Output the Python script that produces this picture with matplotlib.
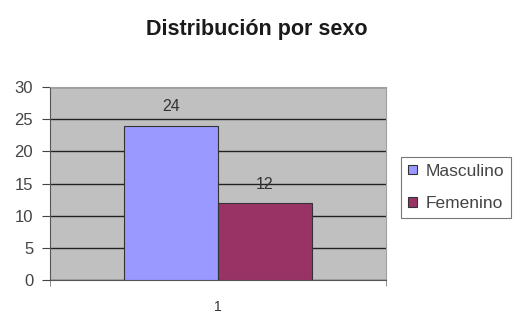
import matplotlib.pyplot as plt
from matplotlib.ticker import FixedLocator

plt.rcParams["font.family"] = ["Liberation Sans", "DejaVu Sans"]

categories = ["1"]
series_names = ["Masculino", "Femenino"]
series_values = [24, 12]
series_colors = ["#9999FF", "#993366"]
yticks = [0, 5, 10, 15, 20, 25, 30]

fig = plt.figure(figsize=(5.14, 3.14), dpi=100)
ax = fig.add_axes([0.097, 0.108, 0.654, 0.615])
ax.set_facecolor("#C0C0C0")

width = 0.28
offsets = [-width / 2, width / 2]
for name, val, col, off in zip(series_names, series_values, series_colors, offsets):
    bars = ax.bar([off], [val], width=width, color=col, edgecolor="#333333",
                  linewidth=0.8, label=name, zorder=3)
    ax.bar_label(bars, labels=[str(val)], padding=8, fontsize=11.5, color="#333333", zorder=4)

ax.set_xlim(-0.5, 0.5)
ax.set_ylim(0, 30)
ax.set_yticks(yticks)
ax.yaxis.grid(True, color="#222222", linewidth=1.0, zorder=1)
ax.set_axisbelow(True)

ax.set_xticks([0])
ax.set_xticklabels(categories)
ax.xaxis.set_minor_locator(FixedLocator([-0.5, 0.5]))
ax.tick_params(axis="x", which="major", length=0, pad=14, labelsize=10, colors="#333333")
ax.tick_params(axis="x", which="minor", length=4, color="#808080")
ax.tick_params(axis="y", length=6, pad=6, labelsize=12, labelcolor="#444444", color="#444444")

for s in ["top", "right"]:
    ax.spines[s].set_color("#A0A0A0")
    ax.spines[s].set_linewidth(0.8)
ax.spines["left"].set_color("#555555")
ax.spines["bottom"].set_color("#555555")

fig.text(0.5, 0.905, "Distribución por sexo", ha="center", va="center",
         fontsize=15.5, fontweight="bold", color="#1a1a1a")

leg = ax.legend(loc="center left", bbox_to_anchor=(1.045, 0.48), frameon=True,
                fancybox=False, fontsize=12.5, handlelength=0.5, handleheight=0.5,
                handletextpad=0.5, borderpad=0.4, labelspacing=1.0, borderaxespad=0)
leg.get_frame().set_edgecolor("#555555")
leg.get_frame().set_linewidth(0.8)
for t in leg.get_texts():
    t.set_color("#444444")

fig.savefig("out.png", dpi=100)
